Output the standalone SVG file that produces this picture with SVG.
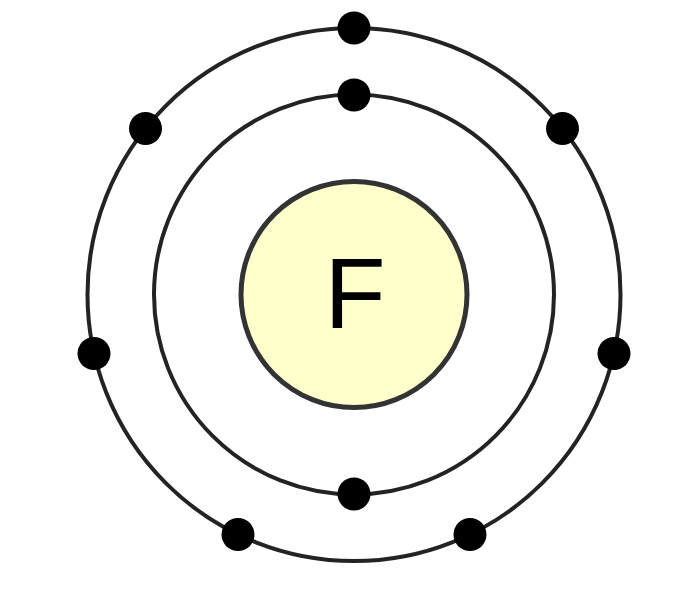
<svg xmlns="http://www.w3.org/2000/svg" width="698" height="596" viewBox="0 0 698 596">
<style>
.orbit{fill:none;stroke:#232326;stroke-width:4}
.e{fill:#000}
.nuc{fill:#ffffcc;stroke:#333;stroke-width:5}
.lbl{font-family:"Liberation Sans",Arial,sans-serif;font-size:100px;fill:#000;text-anchor:middle}
</style>
<rect width="698" height="596" fill="#fff"/>
<g id="orbits">
<circle class="orbit" cx="354" cy="294.5" r="200"/>
<circle class="orbit" cx="354" cy="294.5" r="266.5"/>
</g>
<g id="nucleus">
<circle class="nuc" cx="354" cy="294.5" r="113"/>
<text class="lbl" x="355" y="328">F</text>
</g>
<g id="electrons">
<circle class="e" cx="354" cy="95" r="16.5"/>
<circle class="e" cx="354" cy="494" r="16.5"/>
<circle class="e" cx="354" cy="28" r="16.5"/>
<circle class="e" cx="145.5" cy="128.5" r="16.5"/>
<circle class="e" cx="562.5" cy="128.5" r="16.5"/>
<circle class="e" cx="94" cy="353.5" r="16.5"/>
<circle class="e" cx="614" cy="353.5" r="16.5"/>
<circle class="e" cx="238" cy="534.5" r="16.5"/>
<circle class="e" cx="470" cy="534.5" r="16.5"/>
</g>
</svg>
